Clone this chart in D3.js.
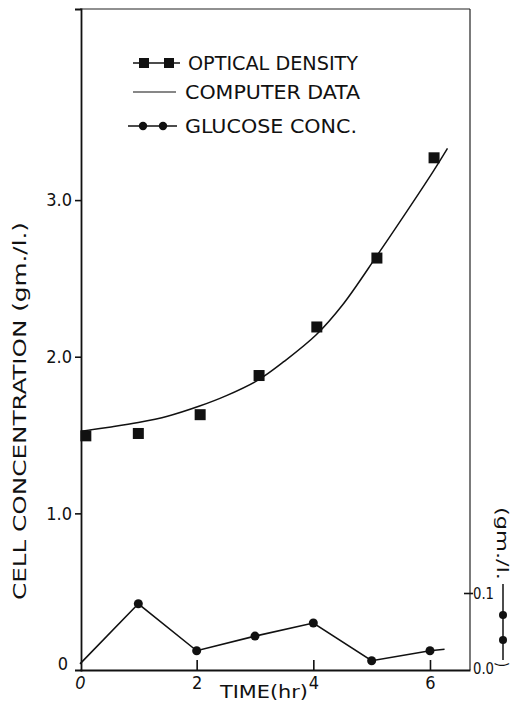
<!DOCTYPE html>
<html>
<head>
<meta charset="utf-8">
<script src="https://cdn.jsdelivr.net/npm/d3@7"></script>
<style>
  html, body { margin: 0; padding: 0; background: #fff; }
  svg { display: block; }
  text { font-family: "DejaVu Sans Condensed", "DejaVu Sans", "Liberation Sans", sans-serif; fill: #111; }
</style>
</head>
<body>
<svg id="chart" width="513" height="701"></svg>
<script>
// ---- Data ----
const odTimes = [0.1, 1.0, 2.06, 3.07, 4.06, 5.09, 6.07];
const odValues = [1.495, 1.51, 1.63, 1.88, 2.19, 2.63, 3.27];

const modelTimes = [0.03, 0.5, 1.0, 1.5, 2.05, 2.5, 3.05, 3.5, 4.05, 4.5, 5.1, 5.5, 6.05, 6.3];
const modelValues = [1.525, 1.55, 1.58, 1.62, 1.685, 1.75, 1.85, 1.97, 2.14, 2.33, 2.65, 2.87, 3.18, 3.33];

const glucoseTimes = [0, 1, 2, 3, 4, 5, 6, 6.25];
const glucoseValues = [0.008, 0.086, 0.025, 0.044, 0.061, 0.012, 0.025, 0.027];
const glucoseMarked = [false, true, true, true, true, true, true, false];

const leftTickValues = [0, 1, 2, 3];
const leftTickLabels = ["0", "1.0", "2.0", "3.0"];
const bottomTickValues = [0, 2, 4, 6];
const bottomTickLabels = ["0", "2", "4", "6"];
const rightTickValues = [0, 0.1];
const rightTickLabels = ["0.0", "0.1"];

const legendLabels = ["OPTICAL DENSITY", "COMPUTER DATA", "GLUCOSE CONC."];
const xTitle = "TIME(hr)";
const yTitle = "CELL CONCENTRATION (gm./l.)";
const yRightTitle = "(gm./l.";

// ---- Scales ----
const svg = d3.select("#chart");
const x = d3.scaleLinear().domain([0, 6.686]).range([80, 470]);
const y = d3.scaleLinear().domain([0, 4.22]).range([670, 9]);
const yR = d3.scaleLinear().domain([0, 0.1]).range([670, 593]);

const [x0, x1] = x.range();
const [yb, yt] = y.range();

// ---- Frame (top and right thin borders) ----
svg.append("line").attr("x1", x0).attr("x2", x1).attr("y1", yt).attr("y2", yt)
  .attr("stroke", "#222").attr("stroke-width", 1.2);
svg.append("line").attr("x1", x1).attr("x2", x1).attr("y1", yt).attr("y2", yb)
  .attr("stroke", "#222").attr("stroke-width", 1.2);

// ---- Left axis ----
const gL = svg.append("g").attr("transform", `translate(${x0 + 1},0)`)
  .call(d3.axisLeft(y).tickValues(leftTickValues)
    .tickFormat((d, i) => leftTickLabels[i]).tickSizeOuter(0).tickSize(6).tickPadding(3));
gL.select(".domain").attr("stroke", "#111").attr("stroke-width", 1.8);
gL.selectAll(".tick line").attr("stroke", "#111").attr("stroke-width", 1.6);
gL.selectAll(".tick text").attr("font-size", 18);
gL.selectAll(".tick").filter(d => d === 0).select("line").remove();
gL.selectAll(".tick").filter(d => d === 0).select("text").attr("x", -13).attr("dy", "-0.05em");

// ---- Bottom axis ----
const gB = svg.append("g").attr("transform", `translate(0,${yb})`)
  .call(d3.axisBottom(x).tickValues(bottomTickValues)
    .tickFormat((d, i) => bottomTickLabels[i]).tickSizeOuter(0).tickSizeInner(-10).tickPadding(6));
gB.select(".domain").attr("stroke", "#111").attr("stroke-width", 1.8);
gB.selectAll(".tick line").attr("stroke", "#111").attr("stroke-width", 1.6);
gB.selectAll(".tick").filter(d => d === 0).select("line").remove();
gB.selectAll(".tick text").attr("font-size", 18);
gB.selectAll(".tick").filter(d => d === 0).select("text").attr("font-style", "italic");

svg.append("text").attr("x", 220).attr("y", 698).attr("font-size", 18)
  .attr("textLength", 88).attr("lengthAdjust", "spacingAndGlyphs").text(xTitle);

// ---- Right axis ----
const gR = svg.append("g").attr("transform", `translate(${x1},0)`)
  .call(d3.axisRight(yR).tickValues(rightTickValues)
    .tickFormat((d, i) => rightTickLabels[i]).tickSizeOuter(0).tickSizeInner(-6).tickPadding(3));
gR.select(".domain").remove();
gR.selectAll(".tick line").attr("stroke", "#111").attr("stroke-width", 1.6);
gR.selectAll(".tick").filter(d => d === 0).select("line").remove();
gR.selectAll(".tick").filter(d => d > 0).append("line").attr("x1", 0).attr("x2", 3)
  .attr("stroke", "#111").attr("stroke-width", 1.6);
gR.selectAll(".tick text").attr("font-size", 16).attr("textLength", 21).attr("lengthAdjust", "spacingAndGlyphs");
gR.selectAll(".tick").filter(d => d === 0).select("text").attr("dy", "0.2em");

// ---- Y titles ----
svg.append("text").attr("transform", "translate(26,411) rotate(-90)")
  .attr("text-anchor", "middle").attr("font-size", 18)
  .attr("textLength", 378).attr("lengthAdjust", "spacingAndGlyphs")
  .text(yTitle);

svg.append("text").attr("transform", "translate(497,507) rotate(90)")
  .attr("text-anchor", "start").attr("font-size", 15)
  .attr("textLength", 73).attr("lengthAdjust", "spacingAndGlyphs")
  .text(yRightTitle);
svg.append("line").attr("x1", 503).attr("x2", 503).attr("y1", 584).attr("y2", 660)
  .attr("stroke", "#111").attr("stroke-width", 1.5);
svg.selectAll("circle.rleg").data([615, 640]).enter().append("circle")
  .attr("class", "rleg").attr("cx", 503).attr("cy", d => d).attr("r", 4).attr("fill", "#111");
svg.append("text").attr("transform", "translate(497,662) rotate(90)")
  .attr("font-size", 15).text(")");

// ---- Model curve ----
const modelLine = d3.line().x(d => x(d[0])).y(d => y(d[1])).curve(d3.curveCatmullRom);
svg.append("path").datum(modelTimes.map((t, i) => [t, modelValues[i]]))
  .attr("d", modelLine).attr("fill", "none").attr("stroke", "#111").attr("stroke-width", 1.5);

// ---- Optical density squares ----
const sq = 11;
svg.selectAll("rect.od").data(odTimes.map((t, i) => [t, odValues[i]])).enter().append("rect")
  .attr("class", "od")
  .attr("x", d => x(d[0]) - sq / 2).attr("y", d => y(d[1]) - sq / 2)
  .attr("width", sq).attr("height", sq).attr("fill", "#111");

// ---- Glucose line + dots ----
const gluData = glucoseTimes.map((t, i) => [t, glucoseValues[i], glucoseMarked[i]]);
const gluLine = d3.line().x(d => x(d[0])).y(d => yR(d[1]));
svg.append("path").datum(gluData).attr("d", gluLine)
  .attr("fill", "none").attr("stroke", "#111").attr("stroke-width", 1.6);
svg.selectAll("circle.glu").data(gluData.filter(d => d[2])).enter().append("circle")
  .attr("class", "glu").attr("cx", d => x(d[0])).attr("cy", d => yR(d[1]))
  .attr("r", 4.5).attr("fill", "#111");

// ---- Legend ----
const legY = [63, 92, 126];
const lg = svg.append("g");
lg.append("line").attr("x1", 133).attr("x2", 180).attr("y1", legY[0]).attr("y2", legY[0])
  .attr("stroke", "#111").attr("stroke-width", 1.5);
lg.selectAll("rect").data([144, 169]).enter().append("rect")
  .attr("x", d => d - 5).attr("y", legY[0] - 5).attr("width", 10).attr("height", 10).attr("fill", "#111");
lg.append("line").attr("x1", 133).attr("x2", 176).attr("y1", legY[1]).attr("y2", legY[1])
  .attr("stroke", "#111").attr("stroke-width", 1.2);
lg.append("line").attr("x1", 128).attr("x2", 177).attr("y1", legY[2]).attr("y2", legY[2])
  .attr("stroke", "#111").attr("stroke-width", 1.5);
lg.selectAll("circle").data([143, 163]).enter().append("circle")
  .attr("cx", d => d).attr("cy", legY[2]).attr("r", 4.2).attr("fill", "#111");
const legTextX = [188, 185, 185];
const legTextW = [170, 175, 172];
lg.selectAll("text").data(legendLabels).enter().append("text")
  .attr("x", (d, i) => legTextX[i]).attr("y", (d, i) => legY[i] + 7)
  .attr("font-size", 19).attr("textLength", (d, i) => legTextW[i])
  .attr("lengthAdjust", "spacingAndGlyphs").text(d => d);
</script>
</body>
</html>
